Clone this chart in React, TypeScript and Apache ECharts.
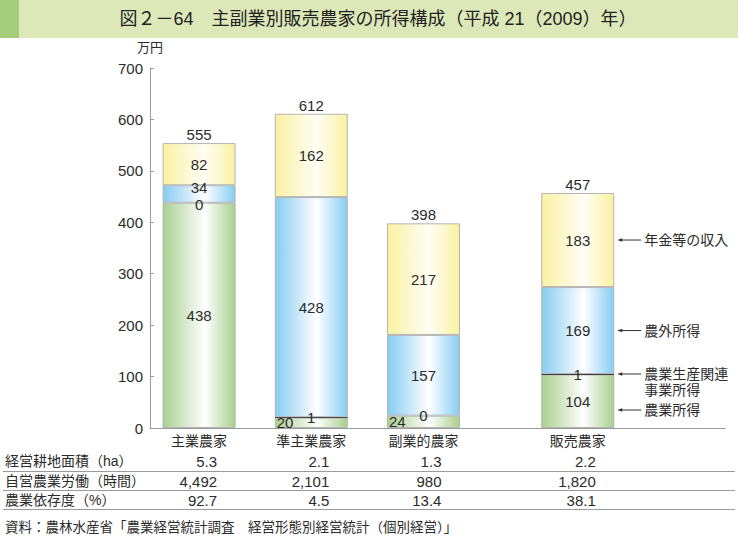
import React, { useEffect, useRef } from 'react';
import * as echarts from 'echarts';

// ---- data ----
const categories = ['主業農家', '準主業農家', '副業的農家', '販売農家'];
const seriesNames = ['農業所得', '農業生産関連\n事業所得', '農外所得', '年金等の収入'];
const farmIncome = [438, 20, 24, 104];
const relatedIncome = [0, 1, 0, 1];
const offFarmIncome = [34, 428, 157, 169];
const pensionIncome = [82, 162, 217, 183];
const totals = [555, 612, 398, 457];
const yTicks = [0, 100, 200, 300, 400, 500, 600, 700];

const rowLabels = ['経営耕地面積（ha）', '自営農業労働（時間）', '農業依存度（%）'];
const areaHa = ['5.3', '2.1', '1.3', '2.2'];
const laborHours = ['4,492', '2,101', '980', '1,820'];
const dependence = ['92.7', '4.5', '13.4', '38.1'];

const titleText = '図２－64　主副業別販売農家の所得構成（平成 21（2009）年）';
const sourceText = '資料：農林水産省「農業経営統計調査　経営形態別経営統計（個別経営）」';

// ---- layout (slot grid on the category axis) ----
const SLOT_COUNT = 41;
const slots = [3, 11, 19, 30];

const FONT = '"Liberation Sans", "Noto Sans CJK JP", sans-serif';
const TXT = '#2b2b2b';
const AXIS = '#9a9a9a';

const grad = (edge: string, mid: string) =>
  new echarts.graphic.LinearGradient(0, 0, 1, 0, [
    { offset: 0, color: edge },
    { offset: 0.58, color: mid },
    { offset: 1, color: edge },
  ]);

const toSlots = (vals: any[]) => {
  const out: any[] = new Array(SLOT_COUNT).fill('-');
  vals.forEach((v, i) => (out[slots[i]] = v));
  return out;
};

export default function App() {
  const ref = useRef<HTMLDivElement>(null);
  useEffect(() => {
    if (!ref.current) return;
    const chart = echarts.init(ref.current, null, { renderer: 'svg' });
    const xData = new Array(SLOT_COUNT).fill('');
    slots.forEach((s, i) => (xData[s] = categories[i]));

    const baseLabel = { show: true, position: 'inside', fontSize: 15, color: TXT, fontFamily: FONT };
    const barCommon = {
      type: 'bar',
      stack: 'total',
      barWidth: 73,
      itemStyle: { borderColor: '#b4b4b4', borderWidth: 1 },
      label: baseLabel,
    };

    const option: any = {
      animation: false,
      textStyle: { fontFamily: FONT },
      grid: { left: 150, right: 13, top: 68, bottom: 122, containLabel: false },
      xAxis: {
        type: 'category',
        data: xData,
        axisLine: { lineStyle: { color: AXIS, width: 1 } },
        axisTick: { show: false },
        axisLabel: { interval: 0, fontSize: 14, color: TXT, margin: 6, fontFamily: FONT },
      },
      yAxis: {
        type: 'value',
        min: yTicks[0],
        max: yTicks[yTicks.length - 1],
        interval: 100,
        name: '万円',
        nameLocation: 'end',
        nameGap: 14,
        nameTextStyle: { fontSize: 13, color: TXT, align: 'center', fontFamily: FONT },
        axisLine: { show: true, lineStyle: { color: AXIS, width: 1 } },
        axisTick: { show: true, inside: true, length: 4, lineStyle: { color: AXIS } },
        splitLine: { show: false },
        axisLabel: { fontSize: 15, color: TXT, margin: 7, fontFamily: FONT },
      },
      series: [
        {
          ...barCommon,
          name: seriesNames[0],
          itemStyle: { ...barCommon.itemStyle, color: grad('#a9d08e', '#ffffff') },
          data: toSlots(
            farmIncome.map((v) =>
              v < 30
                ? { value: v, label: { position: 'insideLeft', distance: 2 } }
                : v
            )
          ),
        },
        {
          ...barCommon,
          name: seriesNames[1],
          itemStyle: { borderColor: '#333333', borderWidth: 1, color: '#333333' },
          data: toSlots(
            relatedIncome.map((v, i) => {
              const item: any = { value: v };
              if (v === 0) item.itemStyle = { borderWidth: 0, color: 'rgba(0,0,0,0)' };
              if (offFarmIncome[i] < 40) item.label = { offset: [0, 2] };
              return item;
            })
          ),
        },
        {
          ...barCommon,
          name: seriesNames[2],
          itemStyle: { ...barCommon.itemStyle, color: grad('#86cdf2', '#ffffff') },
          data: toSlots(
            offFarmIncome.map((v) =>
              v < 40 ? { value: v, label: { offset: [0, -7] } } : v
            )
          ),
        },
        {
          ...barCommon,
          name: seriesNames[3],
          itemStyle: { ...barCommon.itemStyle, color: grad('#faf1a2', '#fffef4') },
          data: toSlots(pensionIncome),
        },
        {
          type: 'bar',
          stack: 'total',
          name: 'total',
          barWidth: 73,
          itemStyle: { color: 'rgba(0,0,0,0)', borderWidth: 0 },
          label: {
            show: true,
            position: 'top',
            distance: 1,
            fontSize: 15,
            color: TXT,
            fontFamily: FONT,
            formatter: (p: any) => String(totals[slots.indexOf(p.dataIndex)]),
          },
          data: toSlots(totals.map(() => 0)),
        },
      ],
    };
    chart.setOption(option);

    // ---- annotations / table / title computed from the axes ----
    const px = (slotIdx: number, v: number) =>
      chart.convertToPixel({ xAxisIndex: 0, yAxisIndex: 0 }, [slotIdx, v]) as number[];

    const graphics: any[] = [];
    // title banner
    graphics.push({ type: 'rect', shape: { x: 0, y: 0, width: 738, height: 38 }, style: { fill: '#dde8b8' }, silent: true });
    graphics.push({ type: 'rect', shape: { x: 0, y: 0, width: 19, height: 38 }, style: { fill: '#a6cd7c' }, silent: true });
    graphics.push({
      type: 'text', x: 378, y: 19,
      style: { text: titleText, fontSize: 18, fill: '#222', fontFamily: FONT, align: 'center', verticalAlign: 'middle' },
    });

    // right annotations on the last column
    const last = categories.length - 1;
    const s = slots[last];
    const barRight = px(s, 0)[0] + 73 / 2;
    const b1 = farmIncome[last];
    const b2 = b1 + relatedIncome[last];
    const b3 = b2 + offFarmIncome[last];
    const b4 = b3 + pensionIncome[last];
    const yPension = px(s, (b3 + b4) / 2)[1];
    const yOff = px(s, (b2 + b3) / 2)[1];
    const yRel = px(s, b2)[1];
    const yFarm = Math.max(px(s, b1 / 2)[1], yRel + 36);
    const tip = barRight + 3;
    const lineEnd = tip + 24;
    const arrow = (y: number) => {
      graphics.push({
        type: 'polygon',
        shape: { points: [[tip, y], [tip + 5, y - 1.8], [tip + 5, y + 1.8]] },
        style: { fill: '#333' },
      });
      graphics.push({
        type: 'line',
        shape: { x1: tip + 4, y1: y, x2: lineEnd, y2: y },
        style: { stroke: '#333', lineWidth: 1 },
      });
    };
    const annText = (y: number, text: string, vAlign = 'middle') => {
      graphics.push({
        type: 'text', x: lineEnd + 3, y,
        style: { text, fontSize: 14, lineHeight: 16, fill: TXT, fontFamily: FONT, align: 'left', verticalAlign: vAlign },
      });
    };
    arrow(yPension); annText(yPension, seriesNames[3]);
    arrow(yOff); annText(yOff, seriesNames[2]);
    arrow(yRel); annText(yRel - 8, seriesNames[1], 'top');
    arrow(yFarm); annText(yFarm, seriesNames[0]);

    // table
    const rows = [areaHa, laborHours, dependence];
    const rowY = [461, 481, 500];
    const lineY = [471.5, 490.5, 509.5];
    rows.forEach((row, r) => {
      graphics.push({
        type: 'text', x: 5, y: rowY[r],
        style: { text: rowLabels[r], fontSize: 14, fill: TXT, fontFamily: FONT, align: 'left', verticalAlign: 'middle' },
      });
      row.forEach((val, i) => {
        const cx = px(slots[i], 0)[0];
        graphics.push({
          type: 'text', x: cx + 18, y: rowY[r],
          style: { text: val, fontSize: 15, fill: TXT, fontFamily: FONT, align: 'right', verticalAlign: 'middle' },
        });
      });
      graphics.push({
        type: 'line',
        shape: { x1: 3, y1: lineY[r], x2: 735, y2: lineY[r] },
        style: { stroke: AXIS, lineWidth: 1 },
      });
    });

    graphics.push({
      type: 'text', x: 5, y: 527,
      style: { text: sourceText, fontSize: 13.5, fill: TXT, fontFamily: FONT, align: 'left', verticalAlign: 'middle' },
    });

    chart.setOption({ graphic: graphics });
    return () => chart.dispose();
  }, []);

  return (
    <div
      ref={ref}
      style={{ position: 'fixed', left: 0, top: 0, width: 738, height: 550, background: '#fff' }}
    />
  );
}
